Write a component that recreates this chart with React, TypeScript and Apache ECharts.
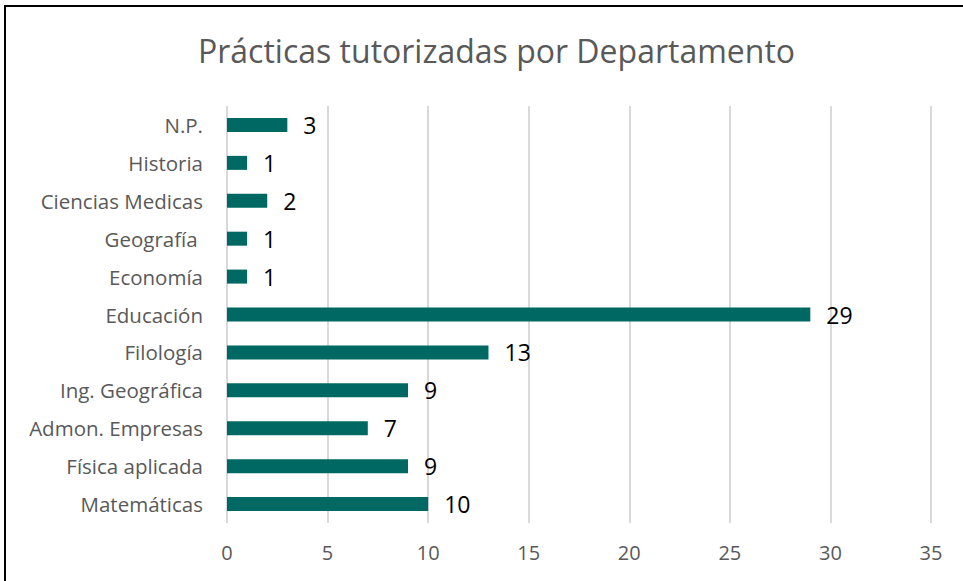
import React, { useEffect, useRef } from "react";
import * as echarts from "echarts";

const categories = [
  "N.P.",
  "Historia",
  "Ciencias Medicas",
  "Geografía ",
  "Economía",
  "Educación",
  "Filología",
  "Ing. Geográfica",
  "Admon. Empresas",
  "Física aplicada",
  "Matemáticas",
];
const values = [3, 1, 2, 1, 1, 29, 13, 9, 7, 9, 10];
const titleText = "Prácticas tutorizadas por Departamento";

export default function App() {
  const ref = useRef<HTMLDivElement>(null);
  useEffect(() => {
    if (!ref.current) return;
    const chart = echarts.init(ref.current, null, { renderer: "svg" });
    const font = "'Open Sans', 'Noto Sans', sans-serif";
    chart.setOption({
      animation: false,
      backgroundColor: "#ffffff",
      title: {
        text: titleText,
        left: 193,
        top: 29,
        textStyle: {
          fontFamily: font,
          fontSize: 32,
          fontWeight: "normal",
          color: "#595959",
        },
      },
      graphic: [
        {
          type: "rect",
          shape: { x: 5, y: 6, width: 1000, height: 700 },
          style: { fill: "none", stroke: "#000", lineWidth: 2 },
          silent: true,
        },
      ],
      grid: { left: 227, right: 32, top: 106, bottom: 58, containLabel: false },
      xAxis: {
        type: "value",
        min: 0,
        max: 35,
        interval: 5,
        axisLine: { show: false },
        axisTick: { show: false },
        splitLine: { show: true, lineStyle: { color: "#d9d9d9", width: 2 } },
        axisLabel: {
          margin: 19,
          fontFamily: font,
          fontSize: 20,
          color: "#595959",
        },
      },
      yAxis: {
        type: "category",
        data: categories,
        inverse: true,
        axisLine: { show: false },
        axisTick: { show: false },
        axisLabel: {
          margin: 24,
          fontFamily: font,
          fontSize: 20.5,
          color: "#595959",
        },
      },
      series: [
        {
          type: "bar",
          data: values,
          barWidth: 14,
          itemStyle: { color: "#006862" },
          label: {
            show: true,
            position: "right",
            distance: 16,
            fontFamily: font,
            fontSize: 23,
            color: "#000",
          },
        },
      ],
    });
    return () => chart.dispose();
  }, []);
  return (
    <div
      ref={ref}
      style={{ position: "fixed", left: 0, top: 0, width: 963, height: 581 }}
    />
  );
}
